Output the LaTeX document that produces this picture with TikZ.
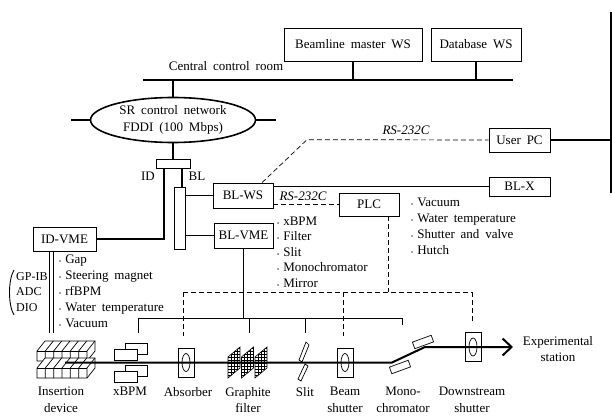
\documentclass[tikz,border=0pt]{standalone}
\usepackage{fontspec}
\setmainfont{Liberation Serif}[WordSpace=1.8]
\usetikzlibrary{shapes.geometric,arrows.meta}
\newcommand\figfont{\fontsize{13}{16.5}\selectfont}
\newcommand\bul{{\fontsize{6}{6}\selectfont\textbullet}\hspace{4pt}}
\tikzset{
	box/.style={draw, line width=0.7pt, inner sep=0pt},
	bus/.style={line width=1.6pt},
	wire/.style={line width=0.7pt},
	ctrl/.style={line width=0.7pt, dash pattern=on 5pt off 3pt},
	item/.style={anchor=west, inner sep=0pt, text height=9pt, text depth=3pt},
	lbl/.style={inner sep=0pt, align=center},
	devlbl/.style={inner sep=0pt, align=center, anchor=north},
}
\begin{document}
\begin{tikzpicture}[x=1pt,y=-1pt,every node/.style={font=\figfont}]
	\useasboundingbox (0,0) rectangle (612,417);
	% central control room
	\node[box, minimum width=138pt, minimum height=33pt] (bmws) at (353,44.5) {Beamline master WS};
	\node[box, minimum width=90pt, minimum height=33pt] (dbws) at (476,44.5) {Database WS};
	\coordinate (ccl) at (143,80);
	\coordinate (ccr) at (513,80);
	\draw[bus] (ccl) -- (ccr);
	\draw[bus] (bmws.south) -- (bmws.south |- ccl);
	\draw[bus] (dbws.south) -- (dbws.south |- ccl);
	\node[lbl] (ccroom) at (226,66) {Central control room};
	
	\node[ellipse, draw, line width=1.6pt, minimum width=165pt, minimum height=45pt, align=center, inner sep=0pt] (net) at (173,120) {SR control network\\FDDI (100 Mbps)};
	\draw[bus] (net.north) -- (net.north |- ccl);
	\draw[bus] (net.west) -- ++(-19,0);
	\draw[bus] (net.east) -- ++(20,0);
	\node[box, minimum width=34pt, minimum height=9pt] (hub) at (173,163.5) {};
	\draw[bus] (net.south) -- (hub.north);
	
	\node[box, minimum width=63pt, minimum height=24pt] (idvme) at (64.5,239) {ID-VME};
	\node[box, minimum width=11pt, minimum height=62pt] (blbar) at (179.5,218.5) {};
	\node[box, minimum width=60pt, minimum height=25pt] (blws) at (243,195.5) {BL-WS};
	\node[box, minimum width=59pt, minimum height=25pt] (blvme) at (243.5,235.5) {BL-VME};
	\node[box, minimum width=61pt, minimum height=19pt] (blx) at (519.5,186.5) {BL-X};
	\node[box, minimum width=61pt, minimum height=24pt] (upc) at (519.5,140) {User PC};
	\node[box, minimum width=60pt, minimum height=23pt] (plc) at (369,204.5) {PLC};
	
	\draw[bus] (idvme.east) -| ([xshift=-9pt]hub.south);
	\node[lbl] (idlbl) at (148,176) {ID};
	\node[lbl] (bllbl) at (197,176) {BL};
	\draw[bus] ([xshift=9pt]hub.south) -- ([xshift=9pt]hub.south |- blbar.north);
	\draw[bus] (blbar.east |- blws.west) -- (blws.west);
	\draw[bus] (blbar.east |- blvme.west) -- (blvme.west);
	\draw[bus] (blws.east |- blx.west) -- (blx.west);
	\draw[ctrl] (blws.east |- plc.west) -- (plc.west);
	\node[lbl, font=\figfont\itshape] (rsa) at (303,196) {RS-232C};
	\draw[ctrl] ([xshift=19pt]blws.north) -- ++(45,-43) -- (upc.west);
	\node[lbl, font=\figfont\itshape] (rsb) at (406,130) {RS-232C};
	
	\coordinate (rtop) at (611,12);
	\coordinate (rbot) at (611,193);
	\draw[line width=1.2pt] (rtop) -- (rbot);
	\draw[bus] (upc.east) -- (upc.east -| rtop);
	
	% controlled items
	\foreach \t [count=\i from 0] in {Vacuum, Water temperature, Shutter and valve, Hutch}
		\node[item] (plcitem\i) at (411,203+16*\i) {\bul\t};
	\foreach \t [count=\i from 0] in {xBPM, Filter, Slit, Monochromator, Mirror}
		\node[item] (vmeitem\i) at (277,222+15.5*\i) {\bul\t};
	\foreach \t [count=\i from 0] in {Gap, Steering magnet, rfBPM, Water temperature, Vacuum}
		\node[item] (iditem\i) at (59,260+16*\i) {\bul\t};
	\node[anchor=west, inner sep=0pt, align=left, font=\fontsize{12}{15.5}\selectfont] (gpib) at (16,292) {GP-IB\\ADC\\DIO};
	\coordinate (parta) at (14,270);
	\coordinate (partb) at (14,315);
	\draw[line width=0.9pt] (parta) .. controls (8,280) and (8,305) .. (partb);
	\draw[wire] ([xshift=17pt]idvme.south west) -- ++(0,82);
	\draw[wire] ([xshift=21pt]idvme.south west) -- ++(0,82);
	
	% VME bus
	\coordinate (vbl) at (138,318);
	\coordinate (vbr) at (402,318);
	\draw[wire] (vbl) -- (vbr);
	\draw[wire] (blvme.south) -- (blvme.south |- vbl);
	\foreach \x/\y in {138/333,249/333,305/333,402/325}
		\draw[wire] (\x,318) -- (\x,\y);
	
	% PLC lines
	\coordinate (pbl) at (183,292);
	\coordinate (pbr) at (472,292);
	\draw[ctrl] (pbl) -- (pbr);
	\draw[ctrl] ([xshift=19pt]plc.south) -- ([xshift=19pt]plc.south |- pbl);
	\foreach \x/\y in {183/336,343/336,472/323}
		\draw[ctrl] (\x,292) -- (\x,\y);
	
	% insertion device
	\foreach \yy in {351,368}
		{
		\filldraw[wire, fill=white] (37,\yy) -- ++(8,-10) -- ++(50,0) -- ++(0,10) -- ++(-8,10) -- ++(-50,0) -- cycle;
		\draw[wire] (37,\yy) -- ++(50,0);
		\foreach \i in {1,...,6}
			\draw[wire] (37+8.33*\i,\yy) -- ++(0,10) (37+8.33*\i,\yy) -- ++(8,-10);
		}
	% xBPM
	\foreach \yy in {343,365}
		{
		\draw[wire] (125,\yy) rectangle ++(22,11);
		\filldraw[wire, fill=white] (114,\yy+6) rectangle ++(23,11);
		}
	% absorber
	\draw[wire] (178,348) rectangle (194,377);
	\draw[wire] (186,362.5) ellipse [x radius=4, y radius=9];
	% graphite filter
	\foreach \x in {228,241.5,255}
		{
		\begin{scope}
			\clip (\x,357) -- ++(12,-10) -- ++(0,21) -- ++(-12,10) -- cycle;
			\foreach \k in {0,...,12}
				\draw[line width=0.35pt] (\x,345+3*\k) -- ++(12,0);
			\foreach \k in {1,...,3}
				\draw[line width=0.35pt] (\x+3*\k,345) -- ++(0,36);
		\end{scope}
		\draw[line width=0.6pt] (\x,357) -- ++(12,-10) -- ++(0,21) -- ++(-12,10) -- cycle;
		}
	% slit
	\draw[wire] (299,360) -- (306,342) -- (309,345) -- (302,362) -- cycle;
	\draw[wire] (298,379) -- (305,364) -- (308,366) -- (301,381) -- cycle;
	% beam shutter
	\draw[wire] (337,348) rectangle (353,377);
	\draw[wire] (345,362.5) ellipse [x radius=4, y radius=9];
	% monochromator
	\draw[wire, fill=white, rotate around={20:(400,367)}] (390,363.5) rectangle (410,370.5);
	\draw[wire, fill=white, rotate around={20:(423,342)}] (413,338.5) rectangle (433,345.5);
	% downstream shutter
	\draw[wire] (465,332) rectangle (481,361);
	\draw[wire] (473,347) ellipse [x radius=4, y radius=9];
	
	% beam
	\draw[line width=2pt, -{Straight Barb[length=9pt,width=17pt]}] (65,362.5) -- (392,362.5) -- (425,347) -- (513,347);
	\node[lbl] (expst) at (558,349) {Experimental\\station};
	
	\node[devlbl] (lid) at (61,387) {Insertion\\device};
	\node[devlbl] (lxbpm) at (130,387) {xBPM};
	\node[devlbl] (labs) at (188,387) {Absorber};
	\node[devlbl] (lfilt) at (248,387) {Graphite\\filter};
	\node[devlbl] (lslit) at (305,387) {Slit};
	\node[devlbl] (lbs) at (345,387) {Beam\\shutter};
	\node[devlbl] (lmono) at (403,387) {Mono-\\chromator};
	\node[devlbl] (lds) at (472,387) {Downstream\\shutter};
\end{tikzpicture}
\end{document}
